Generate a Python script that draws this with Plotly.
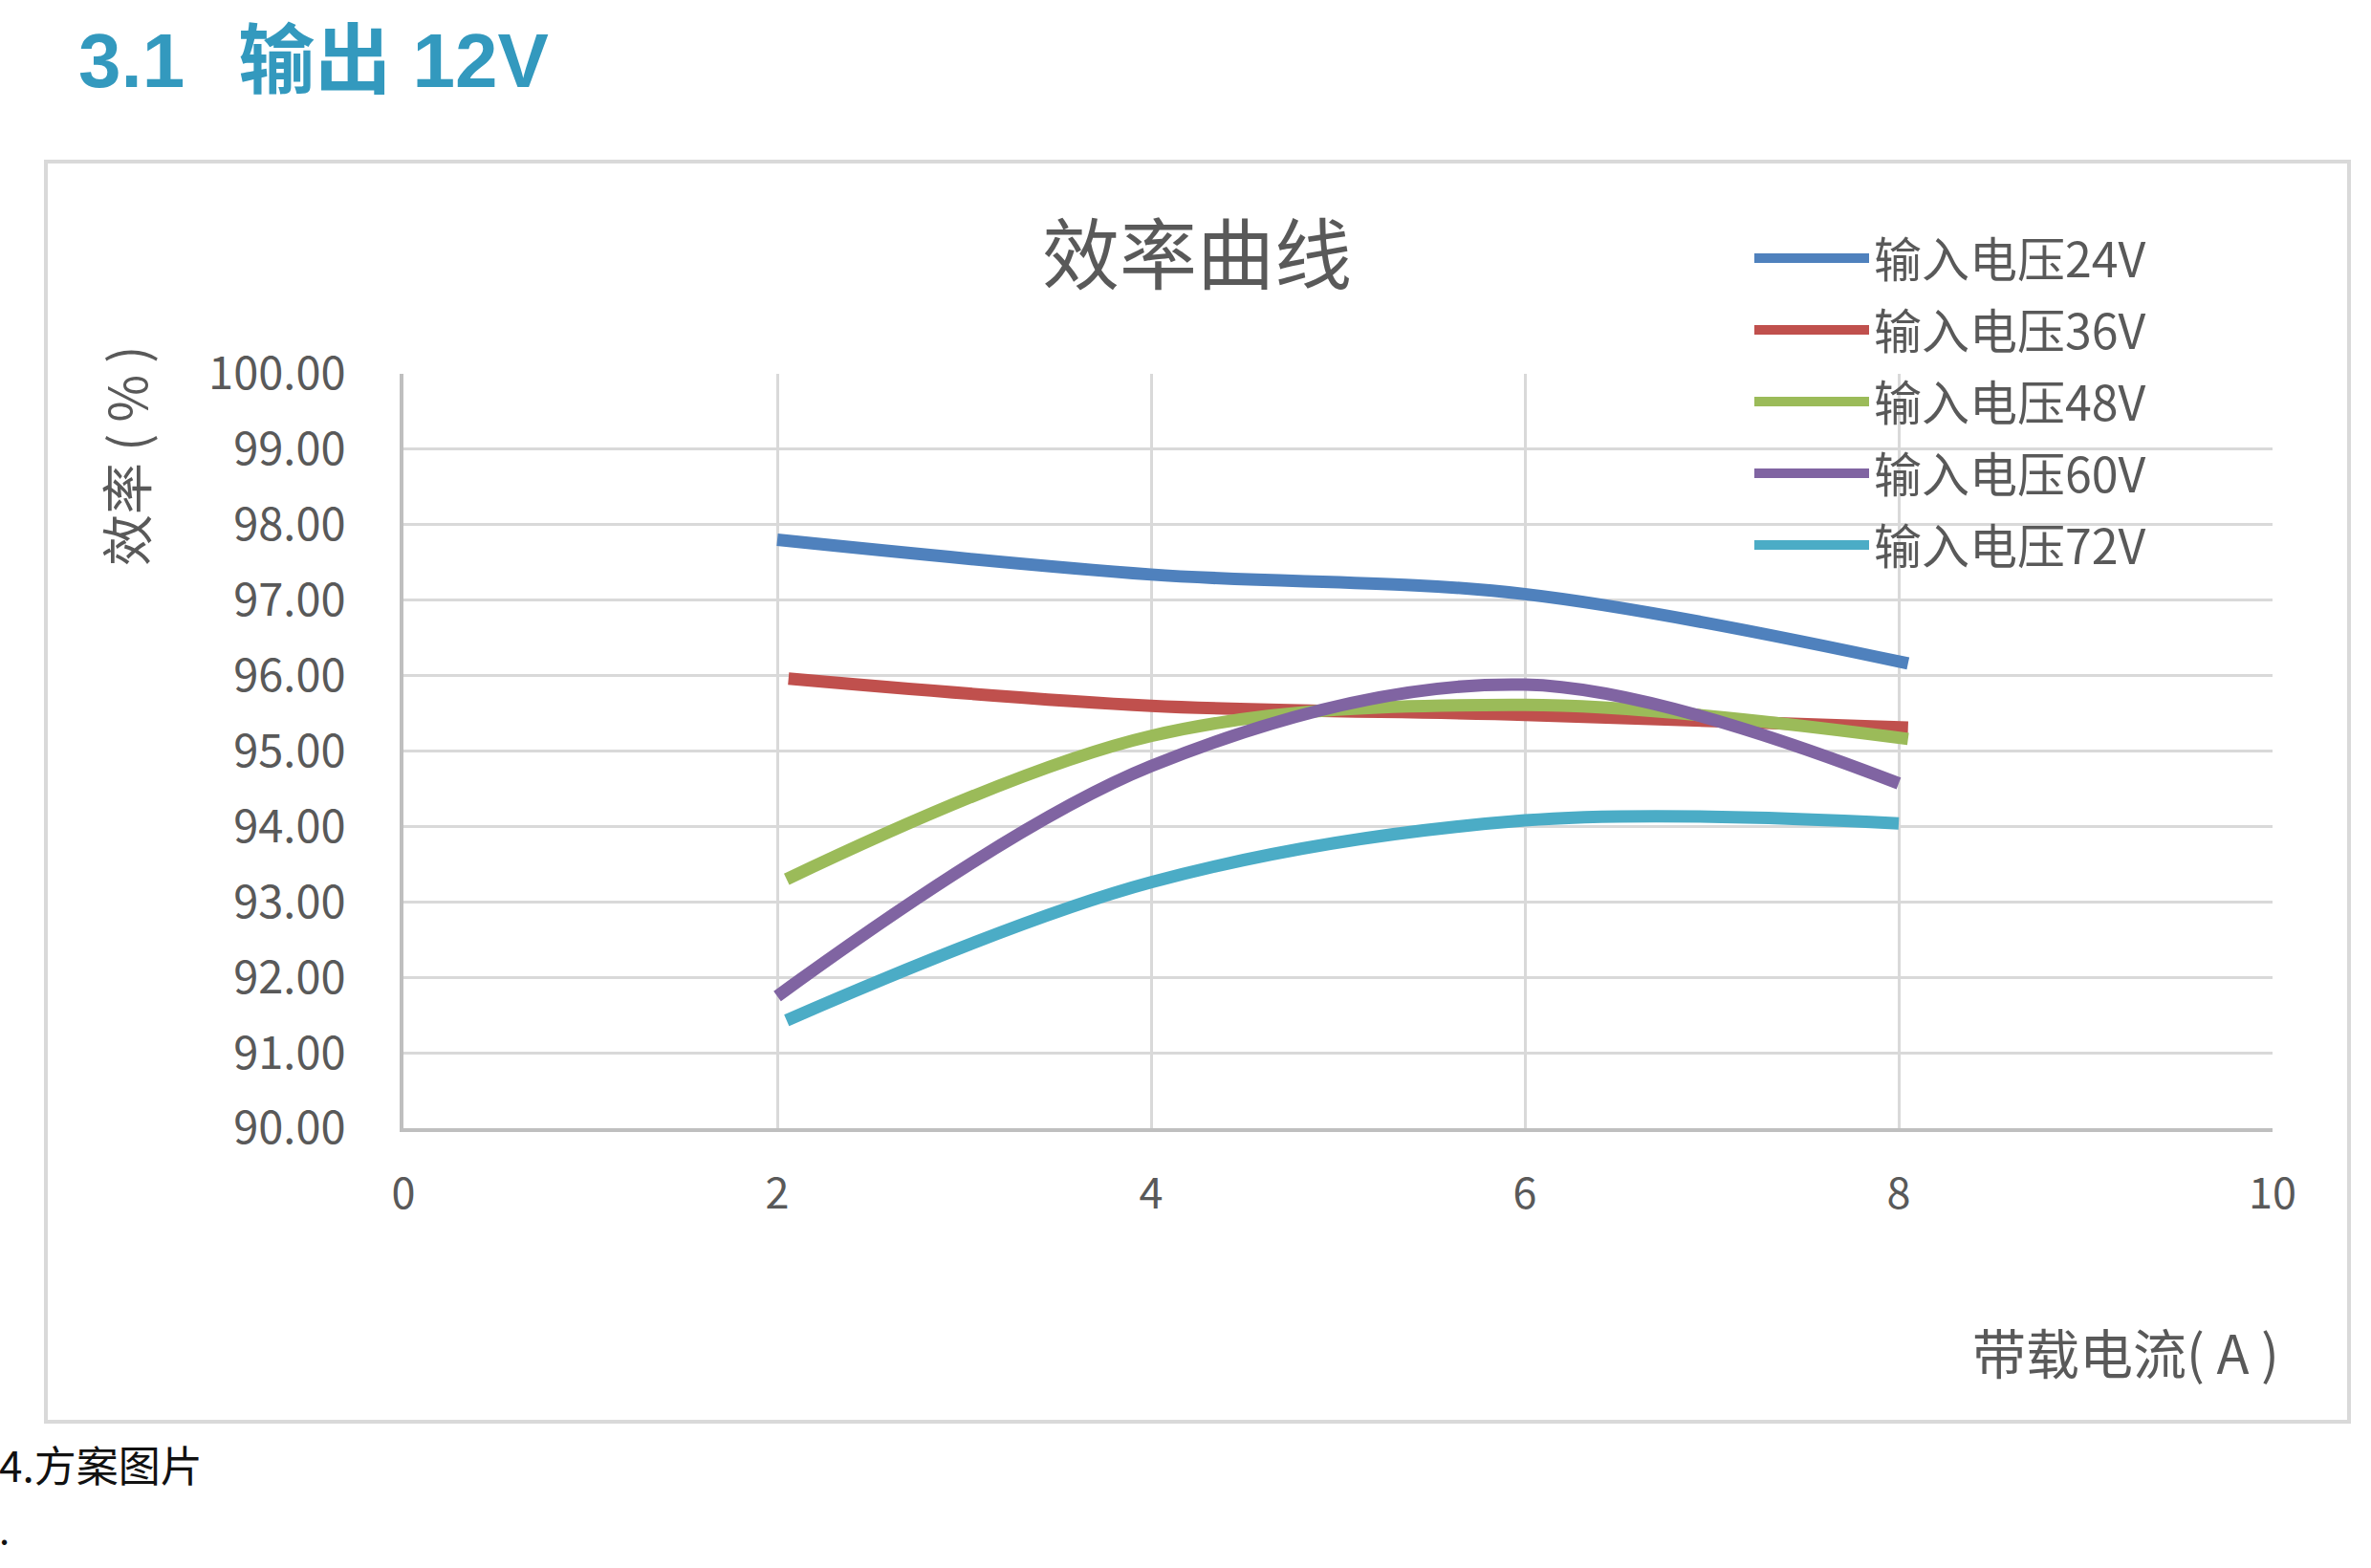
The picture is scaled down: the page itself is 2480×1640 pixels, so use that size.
import plotly.graph_objects as go

# load current (A) and efficiency (%) per input voltage
series_names = ["输入电压24V", "输入电压36V", "输入电压48V", "输入电压60V", "输入电压72V"]
x_24v = [2.0, 4.0, 6.0, 8.05]
y_24v = [97.80, 97.34, 97.08, 96.16]
x_36v = [2.06, 4.0, 6.0, 8.05]
y_36v = [95.96, 95.60, 95.48, 95.31]
x_48v = [2.05, 4.0, 6.0, 8.05]
y_48v = [93.30, 95.20, 95.61, 95.16]
x_60v = [2.0, 4.0, 6.0, 8.0]
y_60v = [91.75, 94.80, 95.88, 94.57]
x_72v = [2.05, 4.0, 6.0, 8.0]
y_72v = [91.43, 93.26, 94.08, 94.04]

x_ticks = [0, 2, 4, 6, 8, 10]
y_ticks = [90, 91, 92, 93, 94, 95, 96, 97, 98, 99, 100]

colors = ["#4F81BD", "#C0504D", "#9BBB59", "#8064A2", "#4BACC6"]

W, H = 2480, 1640
# plot area in pixels
PL, PR, PT, PB = 422, 2377, 391, 1180

def px(xp):
	return (xp - PL) / (PR - PL)

def py(yp):
	return (PB - yp) / (PB - PT)

FONT = "Noto Sans CJK SC"
GREY = "#595959"

fig = go.Figure()

xs = [x_24v, x_36v, x_48v, x_60v, x_72v]
ys = [y_24v, y_36v, y_48v, y_60v, y_72v]
for name, xv, yv, col in zip(series_names, xs, ys, colors):
	fig.add_trace(go.Scatter(
		x=xv, y=yv, name=name, mode="lines", legendgroup=name,
		line=dict(color=col, width=13, shape="spline", smoothing=1.0),
	))

fig.update_layout(
	width=W, height=H,
	margin=dict(l=PL, r=W - PR, t=PT, b=H - PB),
	paper_bgcolor="white", plot_bgcolor="white",
	font=dict(family=FONT, color=GREY),
	showlegend=True,
	legend=dict(
		x=px(1830), y=py(231), xanchor="left", yanchor="top",
		font=dict(size=50, color=GREY, family=FONT),
		itemwidth=120, bgcolor="rgba(0,0,0,0)",
		traceorder="grouped", tracegroupgap=7,
	),
)

fig.update_xaxes(
	range=[0, 10], tickvals=x_ticks, ticktext=[str(v) for v in x_ticks],
	showgrid=True, gridcolor="#D9D9D9", gridwidth=3,
	showline=True, linecolor="#BFBFBF", linewidth=4,
	zeroline=False, ticks="", ticklabelstandoff=26,
	tickfont=dict(size=45, color=GREY, family=FONT),
)
fig.update_yaxes(
	range=[90, 100], tickvals=y_ticks, ticktext=["%.2f" % v for v in y_ticks],
	showgrid=True, gridcolor="#D9D9D9", gridwidth=3,
	showline=True, linecolor="#BFBFBF", linewidth=4,
	zeroline=False, ticks="", ticklabelstandoff=47,
	tickfont=dict(size=47, color=GREY, family=FONT),
)

# outer chart frame
fig.add_shape(type="rect", xref="paper", yref="paper",
	x0=px(48), x1=px(2457), y0=py(1487), y1=py(169),
	line=dict(color="#D9D9D9", width=4), fillcolor="rgba(0,0,0,0)", layer="below")

# heading
fig.add_annotation(xref="paper", yref="paper", x=px(80), y=py(63),
	xanchor="left", yanchor="middle", showarrow=False,
	text="<b>3.1\u2002\u2009输出 12V</b>",
	font=dict(size=80, color="#3399BE", family="Liberation Sans, " + FONT))

# chart title
fig.add_annotation(xref="paper", yref="paper", x=px(1252), y=py(260),
	xanchor="center", yanchor="middle", showarrow=False,
	text="效率曲线", font=dict(size=81, color=GREY, family=FONT))

# axis titles
fig.add_annotation(xref="paper", yref="paper", x=px(130), y=py(477),
	xanchor="center", yanchor="middle", showarrow=False, textangle=-90,
	text="效率 ( % )", font=dict(size=54, color=GREY, family=FONT))
fig.add_annotation(xref="paper", yref="paper", x=px(2386), y=py(1412),
	xanchor="right", yanchor="middle", showarrow=False,
	text="带载电流( A )", font=dict(size=56, color=GREY, family=FONT))

# text below the chart
fig.add_annotation(xref="paper", yref="paper", x=px(-3), y=py(1531),
	xanchor="left", yanchor="middle", showarrow=False,
	text="4.方案图片", font=dict(size=44, color="#111111", family=FONT))
fig.add_annotation(xref="paper", yref="paper", x=px(-3), y=py(1598),
	xanchor="left", yanchor="middle", showarrow=False,
	text=".", font=dict(size=40, color="#111111", family=FONT))

# page has a default 8px body margin; drop it so the figure sits at 0,0
fig.write_html("out.html", config={"displayModeBar": False},
	post_script="document.body.style.margin='0';")
